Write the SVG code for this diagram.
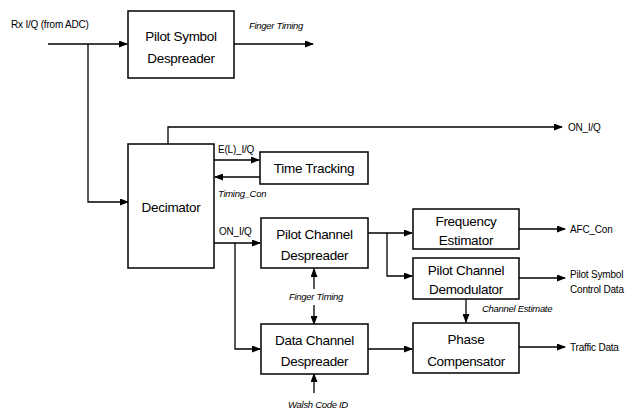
<svg xmlns="http://www.w3.org/2000/svg" width="636" height="412" viewBox="0 0 636 412">
<style>
.box{fill:#fff;stroke:#000;stroke-width:1.5}
.bt{font-family:"Liberation Sans",Arial,sans-serif;font-size:13.5px;letter-spacing:-0.3px;text-anchor:middle;fill:#000}
.lb{font-family:"Liberation Sans",Arial,sans-serif;font-size:10px;letter-spacing:-0.2px;fill:#000}
.it{font-family:"Liberation Sans",Arial,sans-serif;font-size:9.5px;font-style:italic;letter-spacing:-0.3px;fill:#000}
.ln{fill:none;stroke:#000;stroke-width:1.3}
</style>
<defs>
<marker id="ah" markerWidth="9" markerHeight="7" refX="8" refY="3.5" orient="auto" markerUnits="userSpaceOnUse">
<path d="M0,0 L9,3.5 L0,7 Z" fill="#000"/>
</marker>
</defs>
<rect width="636" height="412" fill="#fff"/>
<g id="connectors">
<path class="ln" d="M48,44 H127" marker-end="url(#ah)"/>
<path class="ln" d="M88,44 V202 H128" marker-end="url(#ah)"/>
<path class="ln" d="M234,44 H313" marker-end="url(#ah)"/>
<path class="ln" d="M168,144 V127 H562" marker-end="url(#ah)"/>
<path class="ln" d="M214,160 H259" marker-end="url(#ah)"/>
<path class="ln" d="M260,177 H215" marker-end="url(#ah)"/>
<path class="ln" d="M214,243 H260" marker-end="url(#ah)"/>
<path class="ln" d="M235,243 V349 H260" marker-end="url(#ah)"/>
<path class="ln" d="M314,289 V269" marker-end="url(#ah)"/>
<path class="ln" d="M314,305 V324" marker-end="url(#ah)"/>
<path class="ln" d="M314,393 V374" marker-end="url(#ah)"/>
<path class="ln" d="M368,233 H412" marker-end="url(#ah)"/>
<path class="ln" d="M387,233 V276 H412" marker-end="url(#ah)"/>
<path class="ln" d="M519,229 H565" marker-end="url(#ah)"/>
<path class="ln" d="M519,278 H565" marker-end="url(#ah)"/>
<path class="ln" d="M466,299 V322" marker-end="url(#ah)"/>
<path class="ln" d="M368,349 H412" marker-end="url(#ah)"/>
<path class="ln" d="M519,347 H565" marker-end="url(#ah)"/>
</g>
<g id="labels">
<text class="lb" x="11" y="28">Rx I/Q (from ADC)</text>
<text class="it" x="249" y="29">Finger Timing</text>
<text class="lb" x="568" y="131">ON_I/Q</text>
<text class="lb" x="218" y="153">E(L)_I/Q</text>
<text class="it" x="218" y="197">Timing_Con</text>
<text class="lb" x="219" y="235">ON_I/Q</text>
<text class="it" x="316" y="300" text-anchor="middle">Finger Timing</text>
<text class="it" x="318" y="408" text-anchor="middle">Walsh Code ID</text>
<text class="lb" x="570" y="233">AFC_Con</text>
<text class="lb" x="570" y="278">Pilot Symbol</text>
<text class="lb" x="570" y="293">Control Data</text>
<text class="it" x="482" y="312">Channel Estimate</text>
<text class="lb" x="570" y="351">Traffic Data</text>
</g>
<g id="pilot-symbol-despreader">
<rect class="box" x="128" y="11" width="106" height="67"/>
<text class="bt" x="181" y="41">Pilot Symbol</text>
<text class="bt" x="181" y="63">Despreader</text>
</g>
<g id="decimator">
<rect class="box" x="128" y="144" width="86" height="124"/>
<text class="bt" x="171" y="212">Decimator</text>
</g>
<g id="time-tracking">
<rect class="box" x="260" y="152" width="108" height="32"/>
<text class="bt" x="314" y="173">Time Tracking</text>
</g>
<g id="pilot-channel-despreader">
<rect class="box" x="261" y="218" width="107" height="50"/>
<text class="bt" x="314.5" y="239">Pilot Channel</text>
<text class="bt" x="314.5" y="260">Despreader</text>
</g>
<g id="data-channel-despreader">
<rect class="box" x="261" y="324" width="107" height="50"/>
<text class="bt" x="314.5" y="345">Data Channel</text>
<text class="bt" x="314.5" y="366">Despreader</text>
</g>
<g id="frequency-estimator">
<rect class="box" x="413" y="209" width="106" height="40"/>
<text class="bt" x="466" y="226">Frequency</text>
<text class="bt" x="466" y="245">Estimator</text>
</g>
<g id="pilot-channel-demodulator">
<rect class="box" x="413" y="258" width="106" height="41"/>
<text class="bt" x="466" y="275">Pilot Channel</text>
<text class="bt" x="466" y="294">Demodulator</text>
</g>
<g id="phase-compensator">
<rect class="box" x="413" y="323" width="106" height="50"/>
<text class="bt" x="466" y="344">Phase</text>
<text class="bt" x="466" y="366">Compensator</text>
</g>
</svg>
